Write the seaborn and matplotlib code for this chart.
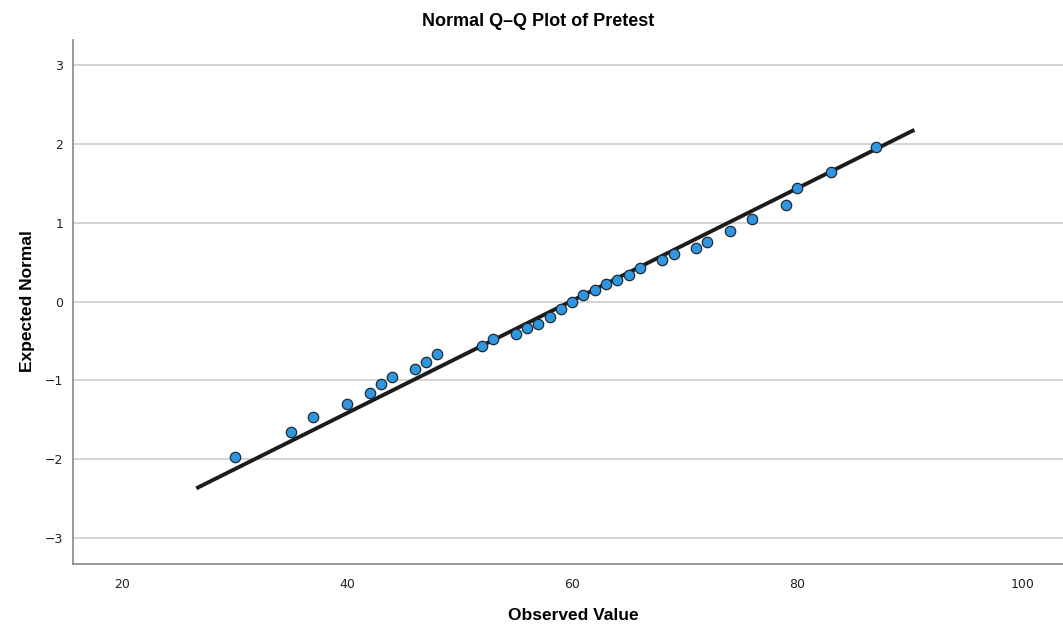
import matplotlib
matplotlib.use("Agg")
import matplotlib.pyplot as plt
import seaborn as sns
import pandas as pd

# observed pretest scores and their expected normal values
observed = [30, 35, 37, 40, 42, 43, 44, 46, 47, 48, 52, 53, 55, 56, 57, 58, 59,
            60, 61, 62, 63, 64, 65, 66, 68, 69, 71, 72, 74, 76, 79, 80, 83, 87]
expected = [-1.97, -1.66, -1.46, -1.30, -1.16, -1.05, -0.96, -0.86, -0.77, -0.66,
            -0.56, -0.48, -0.41, -0.34, -0.28, -0.19, -0.10, 0.00, 0.09, 0.15,
            0.22, 0.28, 0.34, 0.43, 0.53, 0.61, 0.68, 0.76, 0.90, 1.05, 1.22,
            1.44, 1.65, 1.96]

# reference line end points
line_x = [26.6, 90.4]
line_y = [-2.37, 2.18]

x_ticks = [20, 40, 60, 80, 100]
y_ticks = [-3, -2, -1, 0, 1, 2, 3]

df = pd.DataFrame({'Observed Value': observed, 'Expected Normal': expected})

sns.set_style('white')
label_font = ['Liberation Sans', 'DejaVu Sans']

fig = plt.figure(figsize=(10.63, 6.26), dpi=100)
ax = fig.add_axes([73 / 1063, 1 - 564 / 626, (1063 - 73) / 1063, (564 - 40) / 626])

ax.plot(line_x, line_y, color='#1c1c1c', lw=2.8, solid_capstyle='butt', zorder=3)
sns.scatterplot(data=df, x='Observed Value', y='Expected Normal', ax=ax,
                color='#2f97e0', edgecolor='#1f2a33', linewidth=0.9, s=56, zorder=4)

ax.set_xlim(15.65, 103.6)
ax.set_ylim(-3.33, 3.32)
ax.set_xticks(x_ticks)
ax.set_yticks(y_ticks)
ax.yaxis.grid(True, color='#d4d4d4', lw=1.4)
ax.xaxis.grid(False)
ax.set_axisbelow(True)
ax.tick_params(axis='both', length=0, labelsize=9, labelcolor='#222222')
ax.tick_params(axis='x', pad=10)
ax.tick_params(axis='y', pad=7)

for side in ['top', 'right']:
    ax.spines[side].set_visible(False)
for side in ['left', 'bottom']:
    ax.spines[side].set_color('#888888')
    ax.spines[side].set_linewidth(1.2)

ax.set_xlabel('')
ax.set_ylabel('')
fig.text(573 / 1063, 1 - 615 / 626, 'Observed Value', ha='center', va='center',
         fontsize=12.5, fontweight='bold', family=label_font, color='black')
fig.text(28 / 1063, 1 - 301 / 626, 'Expected Normal', ha='center', va='center', rotation=90,
         fontsize=12.5, fontweight='bold', family=label_font, color='black')
fig.text(538 / 1063, 1 - 22 / 626, 'Normal Q\u2013Q Plot of Pretest', ha='center', va='center',
         fontsize=13, fontweight='bold', family=label_font, color='black')

fig.savefig('out.png', dpi=100)
